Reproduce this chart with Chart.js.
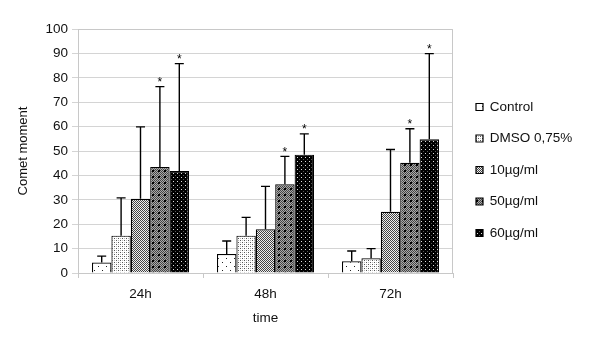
<!DOCTYPE html>
<html>
<head>
<meta charset="utf-8">
<script src="https://cdn.jsdelivr.net/npm/chart.js@4"></script>
<style>
  html, body { margin: 0; padding: 0; background: #fff; }
  #wrap { width: 600px; height: 341px; }
</style>
</head>
<body>
<div id="wrap"><canvas id="chart" width="600" height="341"></canvas></div>
<script>
// data
const categories = ['24h', '48h', '72h'];
const seriesNames = ['Control', 'DMSO 0,75%', '10\u00b5g/ml', '50\u00b5g/ml', '60\u00b5g/ml'];

const control = [4.3, 7.8, 4.8];
const dmso = [15.3, 15.3, 6.0];
const dose10 = [30.4, 17.9, 25.1];
const dose50 = [43.4, 36.4, 45.2];
const dose60 = [41.8, 48.5, 54.8];

// upper end of the error bars
const controlTop = [6.9, 13.1, 9.0];
const dmsoTop = [30.8, 22.8, 10.0];
const dose10Top = [59.9, 35.5, 50.6];
const dose50Top = [76.4, 47.8, 59.1];
const dose60Top = [85.8, 57.0, 89.9];

// significance marks
const controlStar = [false, false, false];
const dmsoStar = [false, false, false];
const dose10Star = [false, false, false];
const dose50Star = [true, true, true];
const dose60Star = [true, true, true];

const yTicks = [0, 10, 20, 30, 40, 50, 60, 70, 80, 90, 100];

const FONT = "'Liberation Sans', Arial, sans-serif";

// little tiled fills like the old excel patterns
function makePattern(kind) {
  const c = document.createElement('canvas');
  const p = c.getContext('2d');
  if (kind === 'control') {
    c.width = 8; c.height = 8;
    p.fillStyle = '#fff'; p.fillRect(0, 0, 8, 8);
    p.fillStyle = '#222';
    p.fillRect(2, 2, 1, 1); p.fillRect(6, 6, 1, 1);
  } else if (kind === 'dmso') {
    c.width = 4; c.height = 4;
    p.fillStyle = '#fff'; p.fillRect(0, 0, 4, 4);
    p.fillStyle = '#555';
    p.fillRect(0, 0, 1, 1); p.fillRect(2, 2, 1, 1);
    p.fillStyle = '#bbb';
    p.fillRect(2, 0, 1, 1); p.fillRect(0, 2, 1, 1);
  } else if (kind === 'd10') {
    c.width = 2; c.height = 2;
    p.fillStyle = '#eee'; p.fillRect(0, 0, 2, 2);
    p.fillStyle = '#444';
    p.fillRect(0, 0, 1, 1); p.fillRect(1, 1, 1, 1);
  } else if (kind === 'd50') {
    c.width = 6; c.height = 6;
    for (let i = 0; i < 6; i++) {
      for (let j = 0; j < 6; j++) {
        p.fillStyle = (i + j) % 2 ? '#aaa' : '#444';
        p.fillRect(i, j, 1, 1);
      }
    }
    p.fillStyle = '#000';
    p.fillRect(2, 2, 2, 2);
  } else {
    c.width = 4; c.height = 4;
    p.fillStyle = '#000'; p.fillRect(0, 0, 4, 4);
    p.fillStyle = '#ddd';
    p.fillRect(1, 1, 1, 1);
    p.fillStyle = '#555';
    p.fillRect(3, 3, 1, 1);
  }
  return p.createPattern(c, 'repeat');
}

const values = [control, dmso, dose10, dose50, dose60];
const tops = [controlTop, dmsoTop, dose10Top, dose50Top, dose60Top];
const stars = [controlStar, dmsoStar, dose10Star, dose50Star, dose60Star];
const fills = ['control', 'dmso', 'd10', 'd50', 'd60'].map(makePattern);

const datasets = seriesNames.map((name, i) => ({
  label: name,
  data: values[i],
  backgroundColor: fills[i],
  borderColor: '#000',
  borderWidth: 1.2,
  barPercentage: 1,
  categoryPercentage: 0.776
}));

// error bars (upper only) and asterisks
const errorBars = {
  id: 'errorBars',
  afterDatasetsDraw(chart) {
    const ctx = chart.ctx;
    const y = chart.scales.y;
    ctx.save();
    ctx.strokeStyle = '#000';
    ctx.fillStyle = '#000';
    ctx.lineWidth = 1.4;
    chart.data.datasets.forEach((ds, i) => {
      const meta = chart.getDatasetMeta(i);
      meta.data.forEach((bar, j) => {
        const top = y.getPixelForValue(tops[i][j]);
        ctx.beginPath();
        ctx.moveTo(bar.x, bar.y);
        ctx.lineTo(bar.x, top);
        ctx.moveTo(bar.x - 4.5, top);
        ctx.lineTo(bar.x + 4.5, top);
        ctx.stroke();
        if (stars[i][j]) {
          ctx.font = '12px ' + FONT;
          ctx.textAlign = 'center';
          ctx.textBaseline = 'alphabetic';
          ctx.fillText('*', bar.x, top - 0.5);
        }
      });
    });
    ctx.restore();
  }
};

// grey frame round the plot area
const plotFrame = {
  id: 'plotFrame',
  beforeDatasetsDraw(chart) {
    const a = chart.chartArea;
    const ctx = chart.ctx;
    ctx.save();
    ctx.strokeStyle = '#c8c8c8';
    ctx.lineWidth = 1;
    ctx.beginPath();
    ctx.moveTo(a.left, a.top + 0.5);
    ctx.lineTo(a.right - 0.5, a.top + 0.5);
    ctx.lineTo(a.right - 0.5, a.bottom);
    ctx.stroke();
    ctx.restore();
  }
};

// fix the legend column width and nudge it into place
const legendFix = {
  id: 'legendFix',
  beforeLayout(chart) {
    const lg = chart.legend;
    if (lg && !lg._fixed) {
      const fit = lg.fit.bind(lg);
      lg.fit = function () { fit(); this.width = 147; };
      lg._fixed = true;
    }
  },
  afterLayout(chart) {
    const lg = chart.legend;
    if (lg) {
      lg.left += 5;
      lg.top -= 15;
      lg.bottom -= 15;
    }
  }
};

new Chart(document.getElementById('chart').getContext('2d'), {
  type: 'bar',
  data: { labels: categories, datasets: datasets },
  plugins: [plotFrame, errorBars, legendFix],
  options: {
    responsive: false,
    animation: false,
    devicePixelRatio: 1,
    layout: { padding: { top: 29, right: 0, bottom: 0, left: 0 } },
    plugins: {
      tooltip: { enabled: false },
      legend: {
        position: 'right',
        labels: {
          boxWidth: 7,
          boxHeight: 7,
          padding: 18,
          color: '#111',
          font: { family: FONT, size: 13.5 }
        }
      }
    },
    scales: {
      x: {
        grid: { display: true, drawOnChartArea: false, drawTicks: true, tickLength: 5, offset: true, color: '#c8c8c8' },
        border: { color: '#c8c8c8' },
        ticks: { color: '#111', padding: 8, font: { family: FONT, size: 13.5 } },
        title: { display: true, text: 'time', color: '#111', padding: { top: 4, bottom: 15 }, font: { family: FONT, size: 13.5 } },
        afterFit(scale) { scale.height = 68; }
      },
      y: {
        min: 0,
        max: 100,
        afterBuildTicks(scale) { scale.ticks = yTicks.map(v => ({ value: v })); },
        grid: { color: '#d4d4d4', drawTicks: true, tickLength: 6 },
        border: { color: '#c8c8c8' },
        ticks: { color: '#111', padding: 4, font: { family: FONT, size: 13.5 } },
        title: { display: true, text: 'Comet moment', color: '#111', padding: { top: 16, bottom: 0 }, font: { family: FONT, size: 13 } },
        afterFit(scale) { scale.width = 78; }
      }
    }
  }
});
</script>
</body>
</html>
